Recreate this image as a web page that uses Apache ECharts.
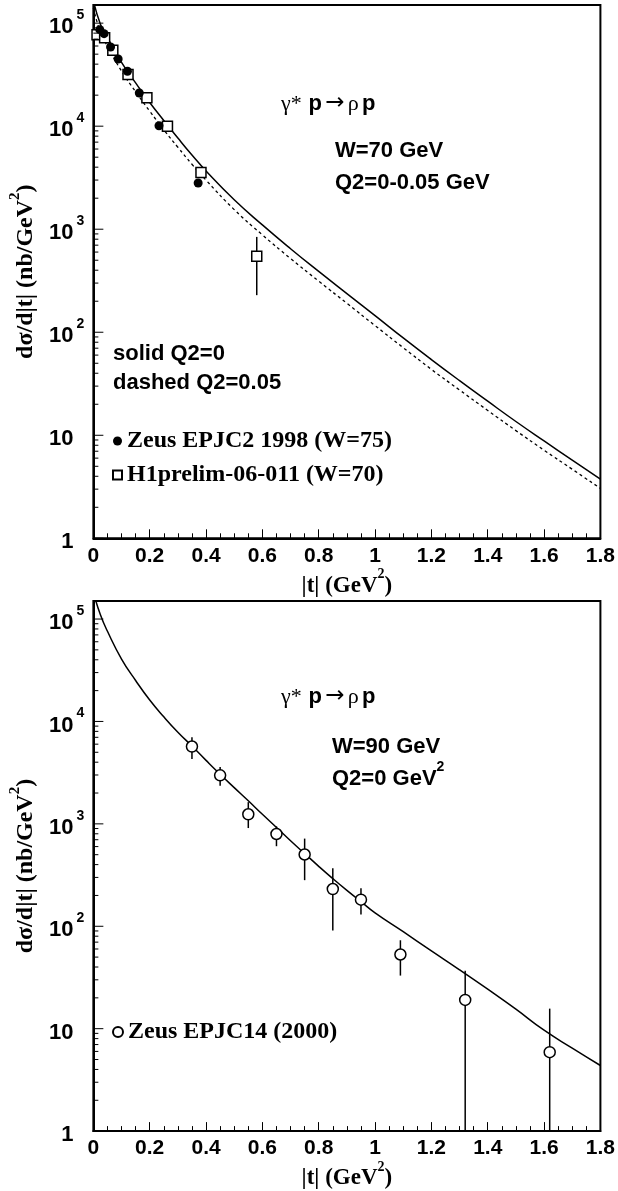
<!DOCTYPE html>
<html>
<head>
<meta charset="utf-8">
<script src="https://cdn.jsdelivr.net/npm/echarts@6/dist/echarts.min.js"></script>
<style>
  html, body { margin: 0; padding: 0; background: #fff; }
  #chart { width: 618px; height: 1191px; }
</style>
</head>
<body>
<div id="chart"></div>
<script>
// ---- top panel: W=70 GeV model curves, dsigma/d|t| in nb/GeV^2 ----
const tTop = [0, 0.025, 0.05, 0.1, 0.15, 0.2, 0.25, 0.3, 0.35, 0.4, 0.5, 0.6, 0.7, 0.8, 0.9, 1.0, 1.1, 1.2, 1.3, 1.4, 1.5, 1.6, 1.7, 1.8];
const solidQ0 = [166000, 97700, 72400, 41700, 26300, 17000, 11350, 7670, 5250, 3670, 1930, 1100, 646, 389, 237, 145, 88.1, 54.3, 33.9, 21.4, 13.6, 8.81, 5.75, 3.76];
const dashedQ005 = [141000, 81300, 59600, 34300, 21600, 14000, 9230, 6240, 4270, 2990, 1550, 881, 519, 313, 191, 116, 70.8, 43.6, 27.5, 17.4, 11.1, 7.16, 4.68, 3.05];

// Zeus EPJC2 1998 (W=75)
const zeus98T = [0.023, 0.038, 0.061, 0.088, 0.121, 0.163, 0.233, 0.372];
const zeus98V = [86500, 79000, 58700, 44900, 34100, 21000, 10100, 2810];

// H1prelim-06-011 (W=70); only the last point has a visible error bar
const h1T = [0.013, 0.04, 0.069, 0.123, 0.19, 0.263, 0.382, 0.58];
const h1V = [77000, 72000, 54500, 31800, 18900, 10000, 3550, 547];
const h1Lo = [null, null, null, null, null, null, null, 229];
const h1Hi = [null, null, null, null, null, null, null, 842];

// ---- bottom panel: W=90 GeV, Q2=0 ----
const tBot = [0, 0.025, 0.05, 0.1, 0.15, 0.2, 0.25, 0.3, 0.35, 0.4, 0.45, 0.5, 0.55, 0.6, 0.65, 0.7, 0.75, 0.8, 0.85, 0.9, 0.95, 1.0, 1.1, 1.2, 1.3, 1.4, 1.5, 1.6, 1.7, 1.8];
const solidW90 = [182000, 110000, 75900, 40700, 25100, 16200, 11100, 7850, 5750, 4170, 3050, 2260, 1680, 1240, 923, 684, 513, 385, 292, 224, 174, 135, 88.5, 57.5, 37.6, 24.3, 15.5, 9.66, 6.46, 4.37];

// Zeus EPJC14 (2000)
const zeus00T = [0.35, 0.45, 0.55, 0.65, 0.75, 0.85, 0.95, 1.09, 1.32, 1.62];
const zeus00V = [5690, 2980, 1240, 796, 502, 231, 182, 53, 19.1, 5.9];
const zeus00Lo = [4300, 2360, 910, 605, 282, 91, 130, 33, 1, 1];
const zeus00Hi = [7000, 3600, 1630, 946, 718, 368, 235, 73, 36.7, 15.7];

// axis ticks
const xTicks = { min: 0, max: 1.8, step: 0.2 };
const yRange = { min: 1, max: 150000 };
const decades = [1, 10, 100, 1000, 10000, 100000];
const minorMult = [2, 3, 4, 5, 6, 7, 8, 9];

const SANS = '"Liberation Sans", Arial, Helvetica, sans-serif';
const SERIF = '"Liberation Serif", "Times New Roman", serif';

const zip = (xs, ys) => xs.map((x, i) => [x, ys[i]]);
const errData = (xs, lo, hi) => xs.map((x, i) => [x, lo[i], hi[i]]).filter(d => d[1] != null);

const yTickData = [];
decades.forEach(d => {
  yTickData.push([0, d, 1]);
  minorMult.forEach(m => { if (d * m <= yRange.max) yTickData.push([0, d * m, 0]); });
});

function powLabel(v) {
  const e = Math.log10(v);
  const n = Math.round(e);
  if (Math.abs(e - n) > 1e-6) return '';
  if (n === 0) return '{b|1}{s| }';
  if (n === 1) return '{b|10}{s| }';
  return '{b|10}{s|' + n + '}';
}

const supRich = (size, supSize, family) => ({
  b: { fontFamily: family, fontWeight: 'bold', fontSize: size, lineHeight: 30, verticalAlign: 'bottom', color: '#000' },
  a: { fontFamily: family, fontWeight: 'bold', fontSize: size, lineHeight: 30, verticalAlign: 'bottom', color: '#000' },
  s: { fontFamily: family, fontWeight: 'bold', fontSize: supSize, lineHeight: supSize, verticalAlign: 'top', color: '#000' }
});

const makeX = (gridIndex) => ({
  type: 'value', gridIndex, min: xTicks.min, max: xTicks.max, interval: xTicks.step,
  axisLine: { onZero: false, lineStyle: { color: '#000', width: 2 } },
  axisTick: { inside: true, length: 9, lineStyle: { color: '#000', width: 1 } },
  minorTick: { show: true, splitNumber: 4, length: 5, lineStyle: { color: '#000', width: 1 } },
  splitLine: { show: false },
  axisLabel: { fontFamily: SANS, fontWeight: 'bold', fontSize: 21, color: '#000', margin: 7 },
  name: '{a||t| (GeV}{s|2}{a|)}',
  nameLocation: 'middle', nameGap: 25,
  nameTextStyle: { rich: supRich(23, 14, SERIF) }
});

const makeY = (gridIndex) => ({
  type: 'log', logBase: 10, gridIndex, min: yRange.min, max: yRange.max,
  axisLine: { onZero: false, lineStyle: { color: '#000', width: 2 } },
  axisTick: { show: false },
  splitLine: { show: false },
  axisLabel: {
    margin: 9, formatter: powLabel,
    rich: {
      b: { fontFamily: SANS, fontWeight: 'bold', fontSize: 22, lineHeight: 30, verticalAlign: 'bottom', color: '#000' },
      s: { fontFamily: SANS, fontWeight: 'bold', fontSize: 14, lineHeight: 14, verticalAlign: 'top', width: 9, padding: [0, 0, 0, 2], color: '#000' }
    }
  },
  name: '{a|dσ/d|t| (nb/GeV}{s|2}{a|)}',
  nameLocation: 'middle', nameGap: 50,
  nameTextStyle: { rich: supRich(24, 15, SERIF) }
});

const tickSeries = (idx) => ({
  type: 'custom', xAxisIndex: idx, yAxisIndex: idx, silent: true, z: 5,
  encode: { x: 0, y: 1 },
  data: yTickData,
  renderItem: (params, api) => {
    const p = api.coord([0, api.value(1)]);
    const len = api.value(2) ? 10 : 5;
    return { type: 'line', shape: { x1: p[0], y1: p[1], x2: p[0] + len, y2: p[1] }, style: { stroke: '#000', lineWidth: 1 } };
  }
});

const errSeries = (idx, data) => ({
  type: 'custom', xAxisIndex: idx, yAxisIndex: idx, silent: true, z: 3,
  encode: { x: 0, y: [1, 2] },
  data,
  renderItem: (params, api) => {
    const a = api.coord([api.value(0), api.value(1)]);
    const b = api.coord([api.value(0), api.value(2)]);
    return { type: 'line', shape: { x1: a[0], y1: a[1], x2: b[0], y2: b[1] }, style: { stroke: '#000', lineWidth: 1.5 } };
  }
});

const curve = (idx, data, dashed) => ({
  type: 'line', xAxisIndex: idx, yAxisIndex: idx, data, smooth: 0.5, showSymbol: false, silent: true,
  lineStyle: { color: '#000', width: dashed ? 1.3 : 1.5, type: dashed ? [3, 3] : 'solid' }, z: 2
});

const gSans = (x, y, text) => ({
  type: 'text', x, y,
  style: {
    text, verticalAlign: 'middle', align: 'left',
    rich: {
      t: { fontFamily: SANS, fontWeight: 'bold', fontSize: 22, lineHeight: 30, verticalAlign: 'bottom', fill: '#000' },
      s: { fontFamily: SANS, fontWeight: 'bold', fontSize: 14, lineHeight: 14, verticalAlign: 'top', fill: '#000' },
      g: { fontFamily: SERIF, fontSize: 22, lineHeight: 30, verticalAlign: 'bottom', fill: '#000' },
      r: { fontFamily: '"DejaVu Sans", sans-serif', fontSize: 23, lineHeight: 30, verticalAlign: 'bottom', fill: '#000' }
    }
  }
});

const reaction = '{g|γ*}  {t|p} {r|→} {g|ρ} {t|p}';

const chart = echarts.init(document.getElementById('chart'), null, { renderer: 'canvas' });
chart.setOption({
  animation: false,
  backgroundColor: '#fff',
  grid: [
    { left: 87.5, top: 5, width: 514, height: 533.3, show: true, borderColor: '#000', borderWidth: 2, backgroundColor: 'transparent' },
    { left: 87.5, top: 601, width: 514, height: 535, show: true, borderColor: '#000', borderWidth: 2, backgroundColor: 'transparent' }
  ],
  xAxis: [makeX(0), makeX(1)],
  yAxis: [makeY(0), makeY(1)],
  legend: [
    {
      left: 112, top: 428, orient: 'vertical', itemGap: 8, itemWidth: 9, itemHeight: 9, padding: 0, selectedMode: false,
      textStyle: { fontFamily: SERIF, fontWeight: 'bold', fontSize: 24, color: '#000', lineHeight: 26 },
      data: ['Zeus EPJC2 1998 (W=75)', 'H1prelim-06-011 (W=70)']
    },
    {
      left: 112, top: 1019, orient: 'vertical', itemWidth: 10, itemHeight: 10, padding: 0, selectedMode: false,
      textStyle: { fontFamily: SERIF, fontWeight: 'bold', fontSize: 24, color: '#000', lineHeight: 26 },
      data: ['Zeus EPJC14 (2000)']
    }
  ],
  graphic: [
    gSans(281, 100, reaction),
    gSans(335, 147, '{t|W=70 GeV}'),
    gSans(335, 179, '{t|Q2=0-0.05 GeV}'),
    gSans(113, 350, '{t|solid Q2=0}'),
    gSans(113, 379, '{t|dashed Q2=0.05}'),
    gSans(281, 693, reaction),
    gSans(332, 743, '{t|W=90 GeV}'),
    gSans(332, 775, '{t|Q2=0 GeV}{s|2}')
  ],
  series: [
    tickSeries(0),
    tickSeries(1),
    curve(0, zip(tTop, solidQ0), false),
    curve(0, zip(tTop, dashedQ005), true),
    errSeries(0, errData(h1T, h1Lo, h1Hi)),
    {
      name: 'H1prelim-06-011 (W=70)', type: 'scatter', xAxisIndex: 0, yAxisIndex: 0,
      symbol: 'rect', symbolSize: 10, data: zip(h1T, h1V), z: 4,
      itemStyle: { color: '#fff', borderColor: '#000', borderWidth: 1.5, opacity: 1 }
    },
    {
      name: 'Zeus EPJC2 1998 (W=75)', type: 'scatter', xAxisIndex: 0, yAxisIndex: 0,
      symbol: 'circle', symbolSize: 9, data: zip(zeus98T, zeus98V), z: 4,
      itemStyle: { color: '#000', opacity: 1 }
    },
    curve(1, zip(tBot, solidW90), false),
    errSeries(1, errData(zeus00T, zeus00Lo, zeus00Hi)),
    {
      name: 'Zeus EPJC14 (2000)', type: 'scatter', xAxisIndex: 1, yAxisIndex: 1,
      symbol: 'circle', symbolSize: 11, data: zip(zeus00T, zeus00V), z: 4,
      itemStyle: { color: '#fff', borderColor: '#000', borderWidth: 1.5, opacity: 1 }
    }
  ]
});
</script>
</body>
</html>
